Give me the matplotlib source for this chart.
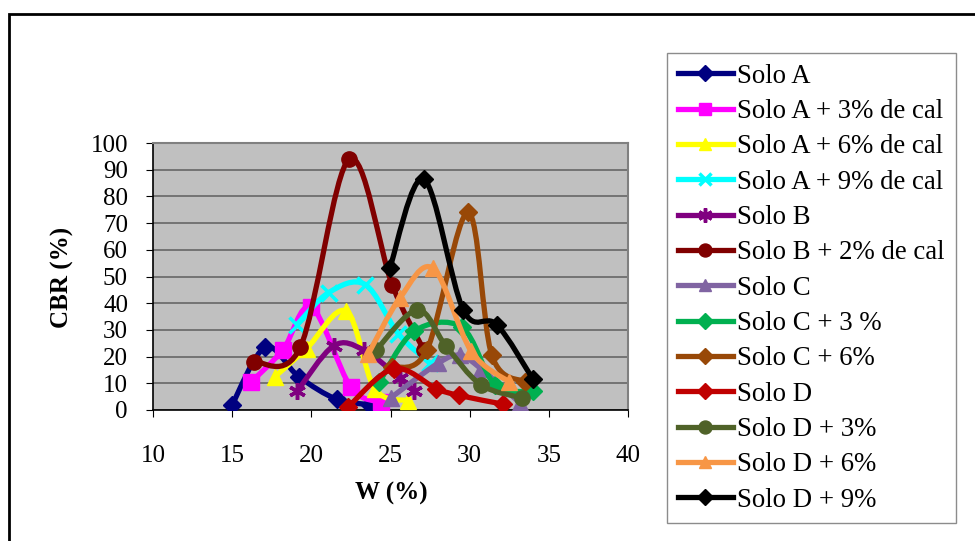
import matplotlib
matplotlib.use("Agg")
import matplotlib.pyplot as plt
from matplotlib.path import Path
from matplotlib.patches import PathPatch, Rectangle
from matplotlib.lines import Line2D

# CBR (%) versus moisture W (%)
series_names = [
    "Solo A", "Solo A + 3% de cal", "Solo A + 6% de cal", "Solo A + 9% de cal",
    "Solo B", "Solo B + 2% de cal", "Solo C", "Solo C + 3 %", "Solo C + 6%",
    "Solo D", "Solo D + 3%", "Solo D + 6%", "Solo D + 9%",
]
w_values = [
    [15.0, 17.1, 19.2, 21.6, 23.7],
    [16.2, 18.2, 20.0, 22.5, 24.4],
    [17.7, 19.7, 22.2, 24.0, 26.1],
    [19.1, 21.1, 23.4, 25.5, 27.5],
    [19.1, 21.4, 23.3, 25.6, 26.5],
    [16.4, 19.3, 22.4, 25.1, 27.1],
    [25.0, 28.0, 29.4, 30.7, 33.2],
    [24.3, 26.5, 29.5, 31.6, 34.0],
    [25.1, 27.3, 29.9, 31.4, 33.5],
    [22.3, 25.2, 27.9, 29.3, 32.1],
    [24.1, 26.7, 28.5, 30.7, 33.3],
    [23.6, 25.6, 27.7, 30.1, 32.5],
    [24.95, 27.1, 29.6, 31.7, 34.0],
]
cbr_values = [
    [2.0, 23.5, 12.5, 4.0, 2.0],
    [10.5, 22.5, 38.5, 8.5, 3.0],
    [12.5, 23.0, 37.0, 8.0, 3.5],
    [32.0, 44.0, 47.0, 28.5, 17.5],
    [7.0, 24.0, 22.5, 12.0, 7.0],
    [18.0, 23.5, 94.0, 47.0, 22.5],
    [4.5, 17.5, 20.5, 15.5, 2.5],
    [10.5, 29.5, 31.0, 9.5, 7.0],
    [16.0, 22.5, 74.0, 20.5, 10.5],
    [1.0, 15.5, 8.0, 5.5, 2.2],
    [22.5, 37.5, 24.0, 9.5, 4.5],
    [21.0, 42.0, 53.0, 22.0, 10.5],
    [53.0, 86.5, 37.5, 32.0, 11.5],
]
colors = ["#000080", "#FF00FF", "#FFFF00", "#00FFFF", "#800080", "#800000",
          "#8064A2", "#00B050", "#984807", "#C00000", "#4F6228", "#F79646", "#000000"]
markers = ["D", "s", "^", "x", (6, 2, 0), "o", "^", "D", "D", "D", "o", "^", "D"]
msizes = [9, 11, 11, 11, 12, 11, 11, 9, 9, 9, 11, 11, 9]

plt.rcParams["font.family"] = ["Liberation Serif", "DejaVu Serif"]


def smooth_path(xs, ys):
    # Excel-like smoothed line: cubic Bezier segments through every point
    pts = list(zip(xs, ys))
    n = len(pts)
    verts = [pts[0]]
    codes = [Path.MOVETO]
    for i in range(n - 1):
        p0 = pts[i - 1] if i > 0 else pts[i]
        p1 = pts[i]
        p2 = pts[i + 1]
        p3 = pts[i + 2] if i + 2 < n else pts[i + 1]
        c1 = (p1[0] + (p2[0] - p0[0]) / 6, p1[1] + (p2[1] - p0[1]) / 6)
        c2 = (p2[0] - (p3[0] - p1[0]) / 6, p2[1] - (p3[1] - p1[1]) / 6)
        verts += [c1, c2, p2]
        codes += [Path.CURVE4] * 3
    return Path(verts, codes)


fig = plt.figure(figsize=(9.75, 5.41), dpi=100)
ax = fig.add_axes([153 / 975, 1 - 410 / 541, 475 / 975, 267 / 541])
ax.set_facecolor("#C0C0C0")

handles = []
for i, name in enumerate(series_names):
    z = 3 + i * 0.1
    ax.add_patch(PathPatch(smooth_path(w_values[i], cbr_values[i]), fill=False,
                           edgecolor=colors[i], lw=3.8, zorder=z, capstyle="round"))
    mew = 2.5 if markers[i] in ("x", (6, 2, 0)) else 1
    ax.plot(w_values[i], cbr_values[i], ls="none", marker=markers[i], ms=msizes[i],
            color=colors[i], mec=colors[i], mew=mew, zorder=z + 0.05)
    handles.append(Line2D([], [], color=colors[i], lw=3.8, marker=markers[i],
                          ms=msizes[i] * 0.85, mew=mew, label=name))

ax.set_xlim(10, 40)
ax.set_ylim(0, 100)
ax.set_xticks(range(10, 41, 5))
ax.set_yticks(range(0, 101, 10))
ax.grid(axis="y", color="#6E6E6E", lw=1.3, zorder=1)
ax.set_axisbelow(True)
for side in ("top", "right"):
    ax.spines[side].set_color("#808080")
    ax.spines[side].set_linewidth(1.5)
for side in ("left", "bottom"):
    ax.spines[side].set_color("black")
    ax.spines[side].set_linewidth(1.2)
ax.tick_params(axis="x", direction="out", length=5, pad=20, labelsize=18)
ax.tick_params(axis="y", direction="out", length=5, pad=13, labelsize=18)

fig.text(391 / 975, 1 - 493 / 541, "W (%)", ha="center", va="center",
         fontsize=18, fontweight="bold")
fig.text(62 / 975, 1 - 277 / 541, "CBR (%)", ha="center", va="center",
         rotation=90, fontsize=18, fontweight="bold")

leg = fig.legend(handles=handles, loc="upper left",
                 bbox_to_anchor=(667 / 975, 1 - 53 / 541), borderaxespad=0,
                 fontsize=19.3, handlelength=2.05, handletextpad=0.18,
                 labelspacing=0.385, borderpad=0.4, frameon=True, fancybox=False)
leg.get_frame().set_edgecolor("#707070")
leg.get_frame().set_linewidth(1.0)

# outer chart frame (clipped at the right and bottom in the reference)
fig.patches.append(Rectangle((9 / 975, -0.05), 1.0, 1 - 14 / 541 + 0.05,
                             transform=fig.transFigure, fill=False,
                             edgecolor="black", lw=2))

fig.savefig("out.png", dpi=100)
